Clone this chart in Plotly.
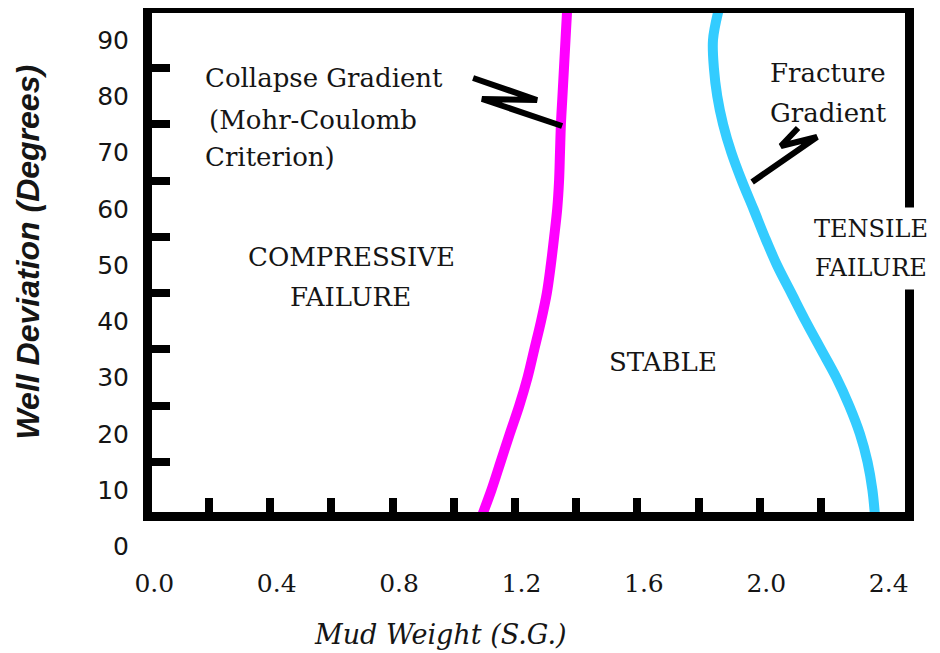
import plotly.graph_objects as go

# ---------------- data ----------------
deviation = [5, 10, 15, 20, 25, 30, 35, 40, 45, 50, 55, 60, 65, 70, 75, 80, 85, 90, 95]
collapse_mw = [1.089, 1.123, 1.153, 1.183, 1.214, 1.241, 1.263, 1.285, 1.304, 1.317,
               1.328, 1.338, 1.344, 1.347, 1.350, 1.355, 1.360, 1.365, 1.370]
fracture_mw = [2.377, 2.368, 2.352, 2.327, 2.292, 2.250, 2.200, 2.150, 2.103, 2.056,
               2.016, 1.979, 1.941, 1.907, 1.880, 1.861, 1.850, 1.847, 1.864]

x_tick_marks = [0.2, 0.4, 0.6, 0.8, 1.0, 1.2, 1.4, 1.6, 1.8, 2.0, 2.2]
x_label_vals = [0.0, 0.4, 0.8, 1.2, 1.6, 2.0, 2.4]
x_label_text = ["0.0", "0.4", "0.8", "1.2", "1.6", "2.0", "2.4"]
y_tick_marks = [15, 25, 35, 45, 55, 65, 75, 85]
y_label_vals = [0, 10, 20, 30, 40, 50, 60, 70, 80, 90]
y_label_text = ["0", "10", "20", "30", "40", "50", "60", "70", "80", "90"]

# zig-zag callout pointers (data units)
collapse_callout_x = [1.063, 1.272, 1.092, 1.354]
collapse_callout_y = [83.24, 79.33, 79.51, 74.71]
fracture_callout_x = [1.975, 2.187, 2.069, 2.125]
fracture_callout_y = [64.76, 72.76, 71.16, 74.36]

# ---------------- figure ----------------
TXT = "#151515"
SERIF = "DejaVu Serif"

fig = go.Figure()

fig.add_trace(go.Scatter(x=collapse_mw, y=deviation, mode="lines",
                         line=dict(color="#FF00FF", width=10, shape="spline"),
                         hoverinfo="skip", showlegend=False))
fig.add_trace(go.Scatter(x=fracture_mw, y=deviation, mode="lines",
                         line=dict(color="#33CCFF", width=10, shape="spline"),
                         hoverinfo="skip", showlegend=False))
fig.add_trace(go.Scatter(x=collapse_callout_x, y=collapse_callout_y, mode="lines",
                         line=dict(color="black", width=6),
                         hoverinfo="skip", showlegend=False))
fig.add_trace(go.Scatter(x=fracture_callout_x, y=fracture_callout_y, mode="lines",
                         line=dict(color="black", width=6),
                         hoverinfo="skip", showlegend=False))
# dummy trace for the label axes
fig.add_trace(go.Scatter(x=[None], y=[None], xaxis="x2", yaxis="y2",
                         hoverinfo="skip", showlegend=False))

x_range = [0.0137, 2.4745]
x_shift = 0.0212

fig.update_layout(
    width=932, height=645,
    margin=dict(l=144, r=35, t=5, b=93, autoexpand=False),
    paper_bgcolor="white",
    plot_bgcolor="rgba(0,0,0,0)",
    showlegend=False,
    xaxis=dict(domain=[0, 1], anchor="y", range=x_range, automargin=False,
               showline=True, linecolor="black", linewidth=9, mirror=True,
               ticks="inside", tickvals=x_tick_marks, ticklen=14, tickwidth=8,
               tickcolor="black", showticklabels=False, showgrid=False, zeroline=False),
    yaxis=dict(domain=[48 / 547, 1], anchor="x", range=[6.089, 94.8], automargin=False,
               showline=True, linecolor="black", linewidth=9, mirror=True,
               ticks="inside", tickvals=y_tick_marks, ticklen=18, tickwidth=8,
               tickcolor="black", showticklabels=False, showgrid=False, zeroline=False),
    xaxis2=dict(domain=[0, 1], anchor="y2", range=[x_range[0] - x_shift, x_range[1] - x_shift],
                automargin=False,
                showline=False, ticks="", tickmode="array", tickvals=x_label_vals,
                ticktext=x_label_text, showgrid=False, zeroline=False,
                tickfont=dict(family=SERIF, size=25, color=TXT), ticklabelstandoff=6),
    yaxis2=dict(domain=[0, 1], anchor="x2", range=[-2.444, 94.8], automargin=False,
                showline=False, ticks="", tickmode="array", tickvals=y_label_vals,
                ticktext=y_label_text, showgrid=False, zeroline=False,
                tickfont=dict(family="DejaVu Sans", size=25, color=TXT), ticklabelstandoff=22),
)

def note(text, x, y, xanchor="left", size=26, **kw):
    fig.add_annotation(text=text, x=x, y=y, xref="x", yref="y", showarrow=False,
                       xanchor=xanchor, yanchor="middle",
                       font=dict(family=SERIF, size=size, color=TXT), **kw)

note("Collapse Gradient", 0.180, 83.24)
note("(Mohr-Coulomb", 0.193, 75.78)
note("Criterion)", 0.180, 69.2)
note("COMPRESSIVE", 0.667, 51.42, xanchor="center")
note("FAILURE", 0.664, 44.31, xanchor="center")
note("STABLE", 1.684, 32.76, xanchor="center")
note("Fracture", 2.027, 84.13)
note("Gradient", 2.027, 77.02)
note("TENSILE", 2.364, 56.4, xanchor="center", size=24, bgcolor="white", borderpad=7)
note("FAILURE", 2.364, 49.47, xanchor="center", size=24, bgcolor="white", borderpad=7)

# axis titles
fig.add_annotation(text="<b><i>Well Deviation (Degrees)</i></b>", xref="paper", yref="paper",
                   x=(28 - 152) / 753, y=(560 - 252.5) / 547, textangle=-90,
                   showarrow=False, xanchor="center", yanchor="middle",
                   font=dict(family="Liberation Sans", size=32, color=TXT))
fig.add_annotation(text="<i>Mud Weight (S.G.)</i>", xref="paper", yref="paper",
                   x=(440 - 152) / 753, y=(560 - 634) / 547,
                   showarrow=False, xanchor="center", yanchor="middle",
                   font=dict(family=SERIF, size=27, color=TXT))

fig.write_html("out.html")
